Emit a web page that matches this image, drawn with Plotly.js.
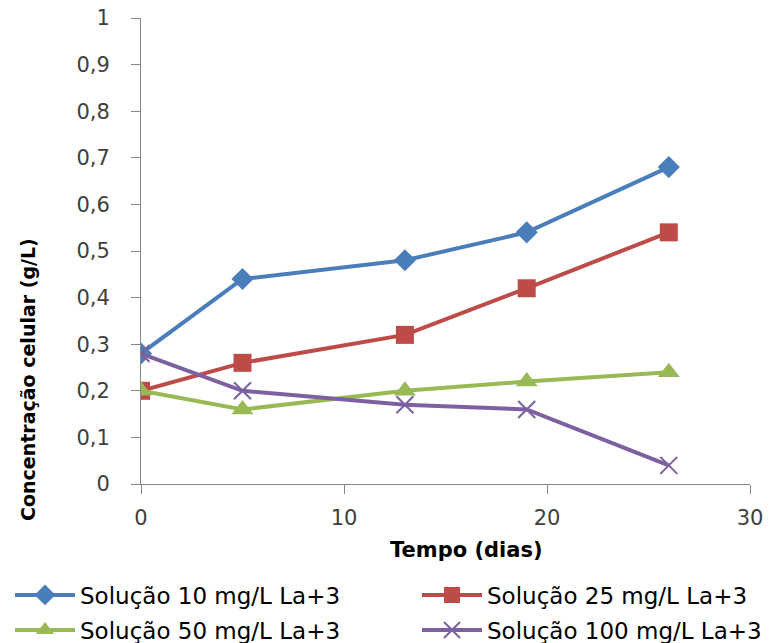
<!DOCTYPE html>
<html>
<head>
<meta charset="utf-8">
<script src="https://cdn.plot.ly/plotly-3.0.1.min.js"></script>
<style>html,body{margin:0;padding:0;background:#fff;}#chart{width:770px;height:643px;}</style>
</head>
<body>
<div id="chart"></div>
<script>
const dias = [0, 5, 13, 19, 26];
const sol10 = [0.28, 0.44, 0.48, 0.54, 0.68];
const sol25 = [0.20, 0.26, 0.32, 0.42, 0.54];
const sol50 = [0.20, 0.16, 0.20, 0.22, 0.24];
const sol100 = [0.28, 0.20, 0.17, 0.16, 0.04];
const names = ["Solução 10 mg/L La+3", "Solução 25 mg/L La+3", "Solução 50 mg/L La+3", "Solução 100 mg/L La+3"];
const xTicks = [0, 10, 20, 30];
const xTickText = ["0", "10", "20", "30"];
const yTicks = [0, 0.1, 0.2, 0.3, 0.4, 0.5, 0.6, 0.7, 0.8, 0.9, 1];
const yTickText = ["0", "0,1", "0,2", "0,3", "0,4", "0,5", "0,6", "0,7", "0,8", "0,9", "1"];
const xTitle = "Tempo (dias)";
const yTitle = "Concentração celular (g/L)";

const FONT = "'DejaVu Sans', sans-serif";
const traces = [
  {x: dias, y: sol10, name: names[0], mode: "lines+markers", legend: "legend",
   line: {color: "#4A7EBB", width: 4}, marker: {symbol: "diamond", size: 17, color: "#4A7EBB"}},
  {x: dias, y: sol25, name: names[1], mode: "lines+markers", legend: "legend2",
   line: {color: "#BE4B48", width: 4}, marker: {symbol: "square", size: 18, color: "#BE4B48"}},
  {x: dias, y: sol50, name: names[2], mode: "lines+markers", legend: "legend3",
   line: {color: "#98B954", width: 4}, marker: {symbol: "triangle-up", size: 19, color: "#98B954"}},
  {x: dias, y: sol100, name: names[3], mode: "lines+markers", legend: "legend4",
   line: {color: "#7D60A0", width: 4}, marker: {symbol: "x-thin-open", size: 17, color: "#7D60A0", line: {color: "#7D60A0", width: 2}}}
];

function mkLegend(px, py) {
  return {
    orientation: "h", xref: "container", yref: "container", xanchor: "left", yanchor: "middle",
    x: px / 770, y: 1 - py / 643, font: {family: FONT, size: 23, color: "#000"}, itemwidth: 60,
    bgcolor: "rgba(0,0,0,0)"
  };
}

const layout = {
  width: 770, height: 643,
  margin: {l: 141, r: 20, t: 18, b: 159},
  paper_bgcolor: "#fff", plot_bgcolor: "#fff",
  showlegend: true,
  font: {family: FONT, color: "#404040"},
  xaxis: {
    range: [0, 30], tickvals: xTicks, ticktext: xTickText,
    showgrid: false, zeroline: false, showline: true, linecolor: "#868686", linewidth: 1,
    ticks: "outside", ticklen: 9, tickcolor: "#868686", ticklabelstandoff: 6,
    tickfont: {family: FONT, size: 21, color: "#404040"}
  },
  yaxis: {
    range: [0, 1], tickvals: yTicks, ticktext: yTickText,
    showgrid: false, zeroline: false, showline: true, linecolor: "#868686", linewidth: 1,
    ticks: "outside", ticklen: 9, tickcolor: "#868686", ticklabelstandoff: 17,
    tickfont: {family: FONT, size: 21, color: "#404040"}
  },
  annotations: [
    {text: "<b>" + xTitle + "</b>", xref: "paper", yref: "paper", x: (466 - 141) / 609, y: -(550 - 484) / 466,
     xanchor: "center", yanchor: "middle", showarrow: false, font: {family: FONT, size: 21, color: "#000"}},
    {text: "<b>" + yTitle + "</b>", xref: "paper", yref: "paper", x: -(141 - 28) / 609, y: (484 - 380) / 466,
     xanchor: "center", yanchor: "middle", textangle: -90, showarrow: false, font: {family: FONT, size: 19, color: "#000"}}
  ],
  legend: mkLegend(10, 595),
  legend2: mkLegend(417, 595),
  legend3: mkLegend(10, 630),
  legend4: mkLegend(417, 630)
};

Plotly.newPlot("chart", traces, layout, {displayModeBar: false, staticPlot: true});
</script>
</body>
</html>
